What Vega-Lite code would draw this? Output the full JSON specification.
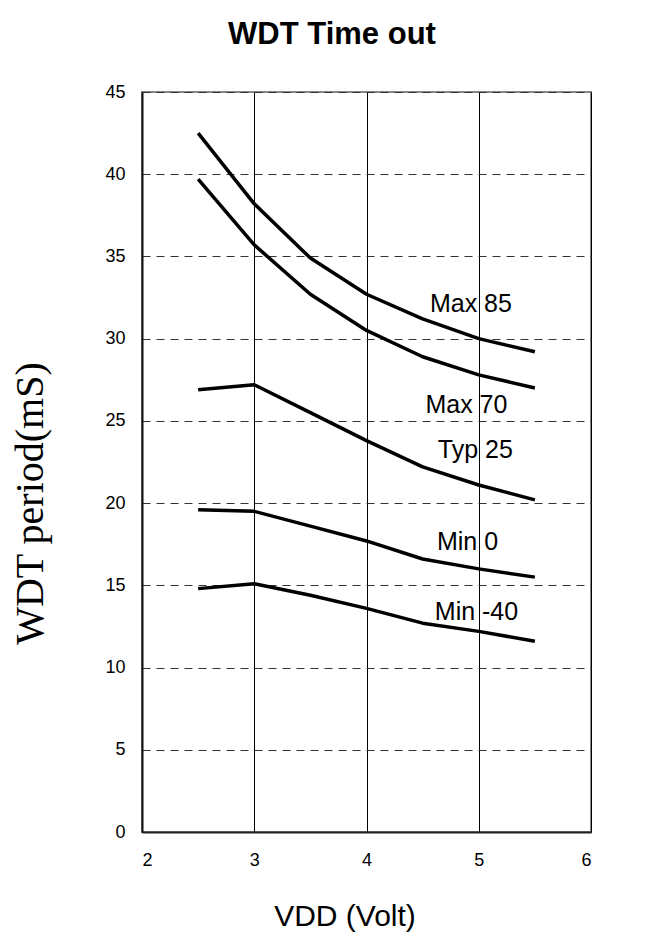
{
  "$schema": "https://vega.github.io/schema/vega-lite/v6.json",
  "autosize": {"type": "none"},
  "width": 449,
  "height": 740,
  "padding": {"left": 142, "top": 92, "right": 73, "bottom": 114},
  "background": "white",
  "title": {
    "text": "WDT Time out",
    "font": "Liberation Sans",
    "fontSize": 31,
    "fontWeight": "bold",
    "color": "black",
    "anchor": "middle",
    "frame": "group",
    "dx": -34.5,
    "baseline": "alphabetic",
    "offset": 8
  },
  "datasets": {
    "curves": [
      {"series": "Max 85", "vdd": 2.5, "period": 42.5},
      {"series": "Max 85", "vdd": 3.0, "period": 38.2},
      {"series": "Max 85", "vdd": 3.5, "period": 34.9},
      {"series": "Max 85", "vdd": 4.0, "period": 32.7},
      {"series": "Max 85", "vdd": 4.5, "period": 31.2},
      {"series": "Max 85", "vdd": 5.0, "period": 30.0},
      {"series": "Max 85", "vdd": 5.5, "period": 29.2},
      {"series": "Max 70", "vdd": 2.5, "period": 39.7},
      {"series": "Max 70", "vdd": 3.0, "period": 35.7},
      {"series": "Max 70", "vdd": 3.5, "period": 32.7},
      {"series": "Max 70", "vdd": 4.0, "period": 30.5},
      {"series": "Max 70", "vdd": 4.5, "period": 28.9},
      {"series": "Max 70", "vdd": 5.0, "period": 27.8},
      {"series": "Max 70", "vdd": 5.5, "period": 27.0},
      {"series": "Typ 25", "vdd": 2.5, "period": 26.9},
      {"series": "Typ 25", "vdd": 3.0, "period": 27.2},
      {"series": "Typ 25", "vdd": 3.5, "period": 25.5},
      {"series": "Typ 25", "vdd": 4.0, "period": 23.8},
      {"series": "Typ 25", "vdd": 4.5, "period": 22.2},
      {"series": "Typ 25", "vdd": 5.0, "period": 21.1},
      {"series": "Typ 25", "vdd": 5.5, "period": 20.2},
      {"series": "Min 0", "vdd": 2.5, "period": 19.6},
      {"series": "Min 0", "vdd": 3.0, "period": 19.5},
      {"series": "Min 0", "vdd": 3.5, "period": 18.6},
      {"series": "Min 0", "vdd": 4.0, "period": 17.7},
      {"series": "Min 0", "vdd": 4.5, "period": 16.6},
      {"series": "Min 0", "vdd": 5.0, "period": 16.0},
      {"series": "Min 0", "vdd": 5.5, "period": 15.5},
      {"series": "Min -40", "vdd": 2.5, "period": 14.8},
      {"series": "Min -40", "vdd": 3.0, "period": 15.1},
      {"series": "Min -40", "vdd": 3.5, "period": 14.4},
      {"series": "Min -40", "vdd": 4.0, "period": 13.6},
      {"series": "Min -40", "vdd": 4.5, "period": 12.7},
      {"series": "Min -40", "vdd": 5.0, "period": 12.2},
      {"series": "Min -40", "vdd": 5.5, "period": 11.6}
    ],
    "labels": [
      {"label": "Max 85", "vdd": 4.93, "period": 31.6},
      {"label": "Max 70", "vdd": 4.89, "period": 25.47},
      {"label": "Typ 25", "vdd": 4.97, "period": 22.73},
      {"label": "Min 0", "vdd": 4.9, "period": 17.15},
      {"label": "Min -40", "vdd": 4.98, "period": 12.9}
    ]
  },
  "encoding": {
    "x": {
      "field": "vdd",
      "type": "quantitative",
      "scale": {"domain": [2, 6], "nice": false, "zero": false},
      "axis": {
        "title": "VDD (Volt)",
        "values": [2, 3, 4, 5, 6],
        "ticks": false,
        "grid": true,
        "gridColor": "black",
        "gridWidth": 1,
        "gridOpacity": 1,
        "domainColor": "#222",
        "domainWidth": 2,
        "labelFont": "Liberation Sans",
        "labelFontSize": 18,
        "labelColor": "black",
        "labelPadding": 19,
        "titleFont": "Liberation Sans",
        "titleFontSize": 30,
        "titleFontWeight": "normal",
        "titleColor": "black",
        "titleX": 202.5,
        "titleY": 93,
        "titleBaseline": "alphabetic",
        "titleAlign": "center"
      }
    },
    "y": {
      "field": "period",
      "type": "quantitative",
      "scale": {"domain": [0, 45], "nice": false},
      "axis": {
        "title": "WDT period(mS)",
        "values": [0, 5, 10, 15, 20, 25, 30, 35, 40, 45],
        "ticks": false,
        "grid": true,
        "gridColor": "#333",
        "gridWidth": 1,
        "gridOpacity": 1,
        "gridDash": [8, 6],
        "domainColor": "#111",
        "domainWidth": 2,
        "labelFont": "Liberation Sans",
        "labelFontSize": 18,
        "labelColor": "black",
        "labelPadding": 17,
        "titleFont": "Liberation Serif",
        "titleFontSize": 40,
        "titleFontWeight": "normal",
        "titleColor": "black",
        "titleAngle": -90,
        "titleX": -100,
        "titleY": 411,
        "titleBaseline": "alphabetic",
        "titleAlign": "center"
      }
    }
  },
  "layer": [
    {
      "data": {"name": "curves"},
      "mark": {"type": "line", "color": "black", "strokeWidth": 3.5, "strokeJoin": "round", "strokeCap": "butt"},
      "encoding": {
        "detail": {"field": "series", "type": "nominal"},
        "order": {"field": "vdd", "type": "quantitative"}
      }
    },
    {
      "data": {"name": "labels"},
      "mark": {"type": "text", "font": "Liberation Sans", "fontSize": 25, "color": "black", "align": "center", "baseline": "alphabetic"},
      "encoding": {
        "text": {"field": "label", "type": "nominal"}
      }
    }
  ],
  "config": {
    "view": {"stroke": "#888", "strokeWidth": 2}
  }
}
